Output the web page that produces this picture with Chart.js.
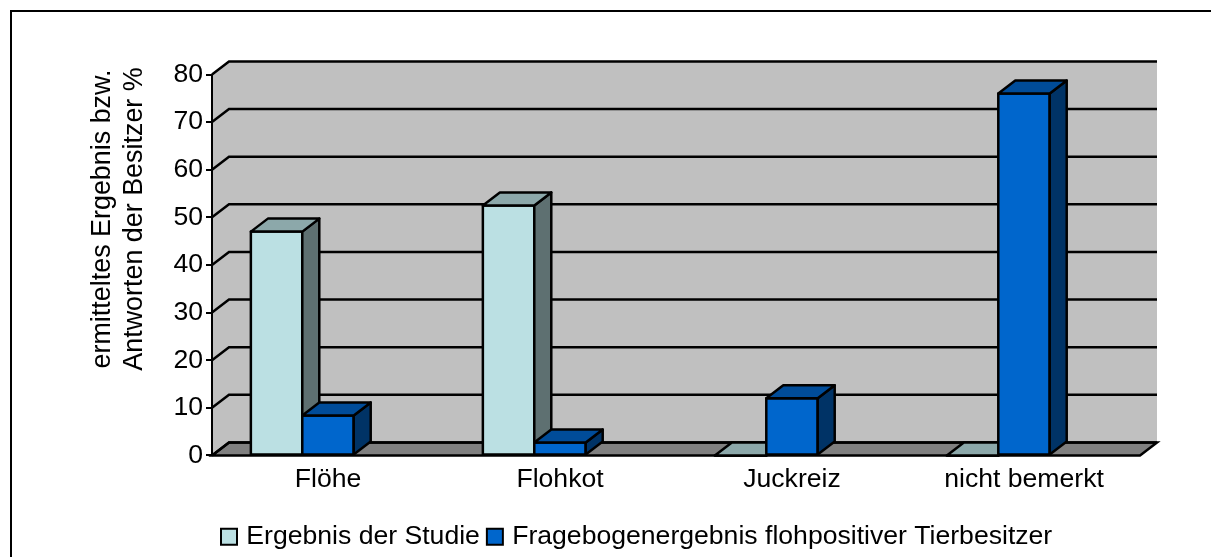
<!DOCTYPE html>
<html>
<head>
<meta charset="utf-8">
<title>Chart</title>
<script src="https://cdn.jsdelivr.net/npm/chart.js@4"></script>
<style>
  html, body { margin: 0; padding: 0; background: #fff; overflow: hidden; }
  canvas { display: block; }
</style>
</head>
<body>
<canvas id="chart" width="1211" height="557"></canvas>
<script>
const categories = ['Flöhe', 'Flohkot', 'Juckreiz', 'nicht bemerkt'];
const studyValues = [47, 52.5, 0, 0];
const ownerValues = [8.4, 2.7, 12, 76];
const seriesNames = ['Ergebnis der Studie', 'Fragebogenergebnis flohpositiver Tierbesitzer'];
const axisTitleLines = ['ermitteltes Ergebnis bzw.', 'Antworten der Besitzer %'];

const fontFamily = '"Liberation Sans", Arial, sans-serif';
const fontSize = 26.6;
const depthX = 17, depthY = 13;
const plotLine = 2.5;

// face colours per series: front, top, side
const faces = [
  { front: '#BBE0E3', top: '#8CA8AA', side: '#5E7071' },
  { front: '#0066CC', top: '#004C99', side: '#003366' }
];

function poly(ctx, pts, fill) {
  ctx.beginPath();
  pts.forEach((p, i) => i ? ctx.lineTo(p[0], p[1]) : ctx.moveTo(p[0], p[1]));
  ctx.closePath();
  if (fill) { ctx.fillStyle = fill; ctx.fill(); }
  ctx.stroke();
}

const box3d = {
  id: 'box3d',
  afterLayout(chart) {
    // legend sits away from where the layout would centre it
    const lg = chart.legend;
    const w = lg.width;
    lg.left = 214;
    lg.right = lg.left + w;
    lg.top += 3;
    lg.bottom += 3;
  },
  beforeDraw(chart) {
    const ctx = chart.ctx;
    const { left: L, right: R, top: T, bottom: B } = chart.chartArea;
    const y = chart.scales.y;
    ctx.save();
    ctx.fillStyle = '#fff';
    ctx.fillRect(0, 0, chart.width, chart.height);

    // outer frame, open on the right and at the bottom
    ctx.strokeStyle = '#000';
    ctx.lineWidth = 2;
    ctx.beginPath();
    ctx.moveTo(11, chart.height);
    ctx.lineTo(11, 11);
    ctx.lineTo(chart.width, 11);
    ctx.stroke();

    // walls
    ctx.lineWidth = plotLine;
    ctx.fillStyle = '#C0C0C0';
    ctx.fillRect(L + depthX, T - depthY, R - L, B - T);
    ctx.beginPath();
    ctx.moveTo(L, B);
    ctx.lineTo(L + depthX, B - depthY);
    ctx.lineTo(L + depthX, T - depthY);
    ctx.lineTo(L, T);
    ctx.closePath();
    ctx.fill();

    // floor
    poly(ctx, [[L, B], [L + depthX, B - depthY], [R + depthX, B - depthY], [R, B]], '#808080');

    // grid lines run along the side wall and the back wall
    y.ticks.forEach(t => {
      const py = y.getPixelForValue(t.value);
      ctx.beginPath();
      ctx.moveTo(L, py);
      ctx.lineTo(L + depthX, py - depthY);
      ctx.lineTo(R + depthX, py - depthY);
      ctx.stroke();
    });
    ctx.restore();
  },
  afterDatasetsDraw(chart) {
    const ctx = chart.ctx;
    ctx.save();
    ctx.strokeStyle = '#000';
    ctx.lineWidth = plotLine;
    ctx.lineJoin = 'round';
    // first series first, so the second one covers its side face
    faces.forEach((face, i) => {
      chart.getDatasetMeta(i).data.forEach(bar => {
        const l = bar.x - bar.width / 2, r = bar.x + bar.width / 2;
        const t = bar.y, b = bar.base;
        bar.draw(ctx);
        ctx.strokeRect(l, t, r - l, b - t);
        poly(ctx, [[r, t], [r + depthX, t - depthY], [r + depthX, b - depthY], [r, b]], face.side);
        poly(ctx, [[l, t], [l + depthX, t - depthY], [r + depthX, t - depthY], [r, t]], face.top);
      });
    });
    ctx.restore();
  },
  afterDraw(chart) {
    const ctx = chart.ctx;
    ctx.save();
    ctx.fillStyle = '#000';
    ctx.font = '26.9px ' + fontFamily;
    ctx.textAlign = 'center';
    ctx.textBaseline = 'middle';
    ctx.translate(103, 219);
    ctx.rotate(-Math.PI / 2);
    axisTitleLines.forEach((line, i) => ctx.fillText(line, 0, i * 32));
    ctx.restore();
  }
};

new Chart(document.getElementById('chart'), {
  type: 'bar',
  data: {
    labels: categories,
    datasets: [
      { label: seriesNames[0], data: studyValues, backgroundColor: faces[0].front, borderWidth: 0 },
      { label: seriesNames[1], data: ownerValues, backgroundColor: faces[1].front, borderWidth: 0 },
      // empty third slot: the reference's bar pair sits left of each label
      { label: '', data: [], borderWidth: 0 }
    ]
  },
  options: {
    responsive: false,
    animation: false,
    categoryPercentage: 0.665,
    barPercentage: 1,
    layout: { padding: { left: 0, right: 71, top: 74.5, bottom: 0 } },
    scales: {
      x: {
        grid: { display: false },
        border: { display: false },
        ticks: { color: '#000', font: { family: fontFamily, size: fontSize }, padding: 0, maxRotation: 0 },
        afterFit(scale) { scale.height = 54; }
      },
      y: {
        min: 0,
        max: 80,
        ticks: { stepSize: 10, color: '#000', font: { family: fontFamily, size: fontSize }, padding: 3 },
        grid: { drawOnChartArea: false, drawTicks: true, tickLength: 6, tickColor: '#000', lineWidth: 2 },
        border: { display: true, color: '#000', width: 2 },
        afterFit(scale) { scale.width = 212; }
      }
    },
    plugins: {
      tooltip: { enabled: false },
      legend: {
        position: 'bottom',
        align: 'start',
        labels: {
          color: '#000',
          font: { family: fontFamily, size: fontSize },
          padding: 11,
          usePointStyle: true,
          pointStyle: 'rect',
          boxWidth: 8,
          boxHeight: 16,
          filter: item => item.datasetIndex < 2,
          generateLabels(chart) {
            return Chart.defaults.plugins.legend.labels.generateLabels(chart).map(item => {
              item.lineWidth = 2;
              item.strokeStyle = '#000';
              item.pointStyle = 'rect';
              return item;
            });
          }
        }
      }
    }
  },
  plugins: [box3d]
});
</script>
</body>
</html>
